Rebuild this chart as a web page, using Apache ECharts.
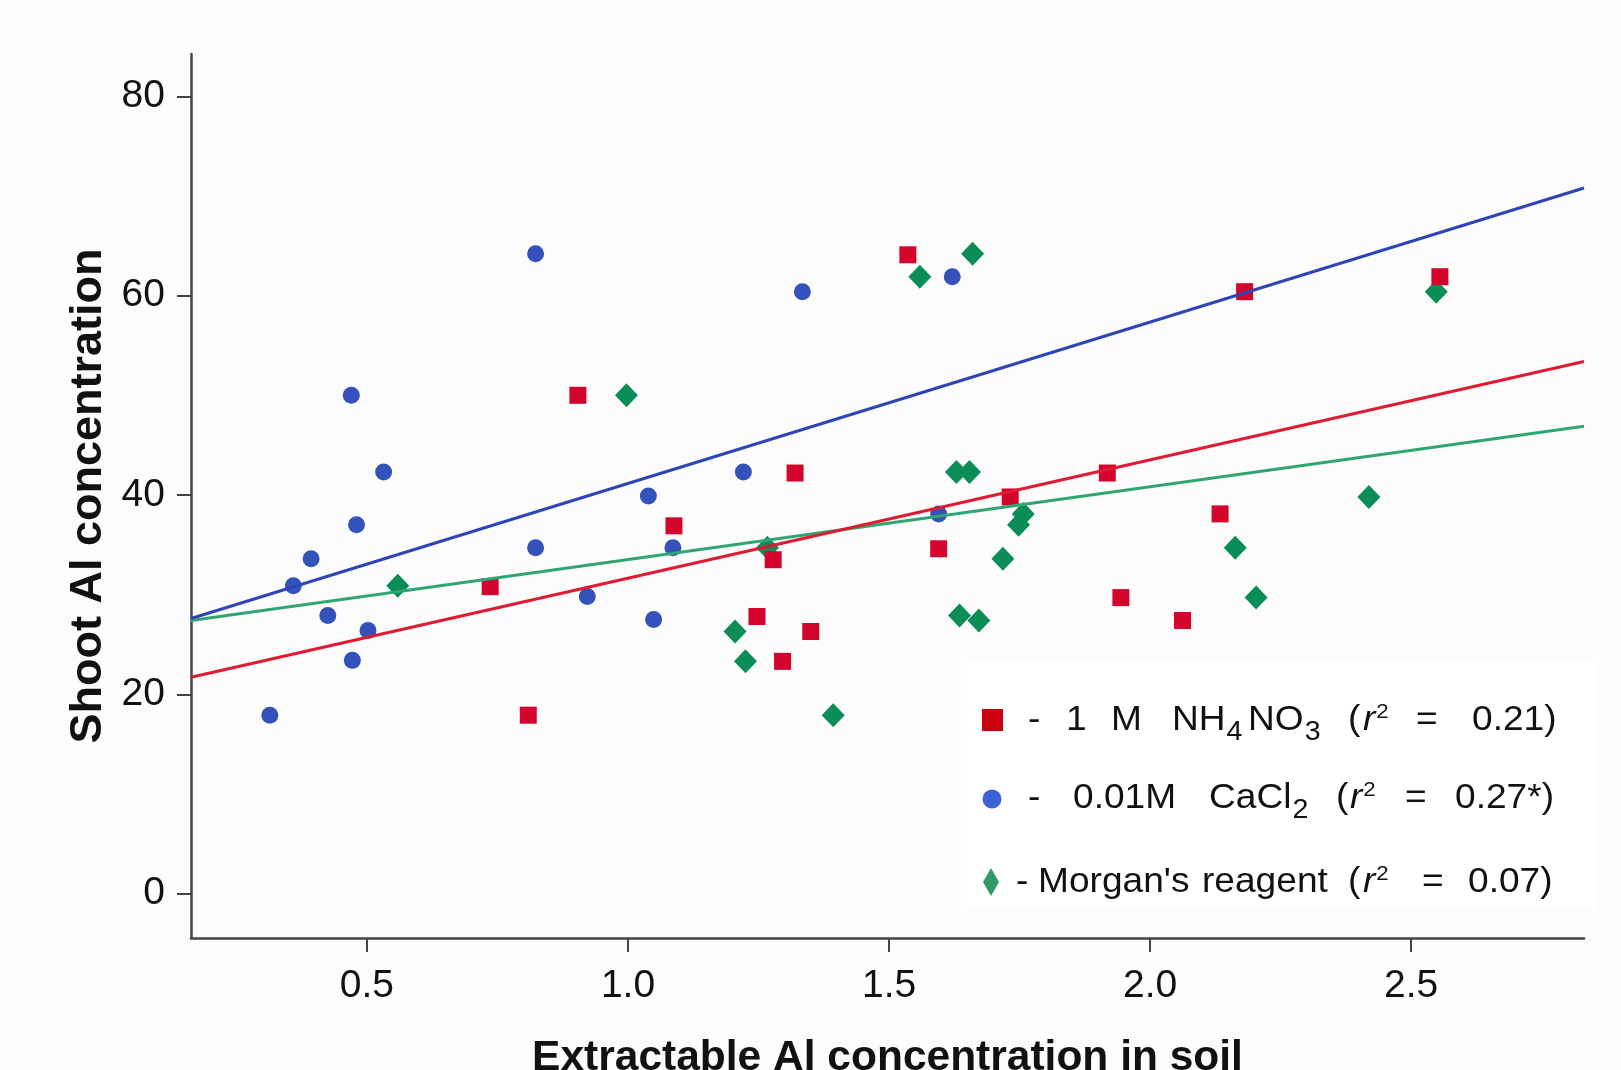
<!DOCTYPE html>
<html>
<head>
<meta charset="utf-8">
<script src="https://cdn.jsdelivr.net/npm/echarts@6/dist/echarts.min.js"></script>
<style>
  html, body { margin: 0; padding: 0; background: #fcfcfc; }
  #chart { width: 1621px; height: 1070px; }
</style>
</head>
<body>
<div id="chart"></div>
<script>
// Extractable Al in soil (x) against shoot Al (y), one list pair per extractant
const nh4no3X = [0.809, 0.736, 0.904, 1.088, 1.247, 1.278, 1.296, 1.320, 1.350, 1.536, 1.595, 1.732, 1.918, 1.944, 2.062, 2.134, 2.181, 2.555];
const nh4no3Y = [17.9, 30.8, 50.0, 36.9, 27.8, 33.5, 23.3, 42.2, 26.3, 64.1, 34.6, 39.8, 42.2, 29.7, 27.4, 38.1, 60.4, 61.9];

const cacl2X = [0.314, 0.359, 0.393, 0.425, 0.470, 0.480, 0.472, 0.502, 0.532, 0.823, 0.823, 0.922, 1.039, 1.049, 1.086, 1.221, 1.334, 1.595, 1.621];
const cacl2Y = [17.9, 30.9, 33.6, 27.9, 50.0, 37.0, 23.4, 26.4, 42.3, 64.2, 34.7, 29.8, 39.9, 27.5, 34.7, 42.3, 60.4, 38.1, 61.9];

const morganX = [0.559, 0.997, 1.205, 1.225, 1.267, 1.393, 1.559, 1.660, 1.629, 1.654, 1.635, 1.672, 1.718, 1.748, 1.757, 2.163, 2.203, 2.419, 2.548];
const morganY = [30.9, 50.0, 26.3, 23.3, 34.7, 17.9, 61.9, 64.2, 42.3, 42.3, 27.9, 27.4, 33.6, 37.0, 38.1, 34.7, 29.7, 39.8, 60.4];

// Fitted regression lines, end points at the axis limits
const fitNh4no3 = [[0.163, 21.7], [2.831, 53.4]];
const fitCacl2 = [[0.163, 27.6], [2.831, 70.8]];
const fitMorgan = [[0.163, 27.4], [2.831, 46.9]];

const xTicks = [0.5, 1.0, 1.5, 2.0, 2.5];
const yTicks = [0, 20, 40, 60, 80];

// Legend rows: [left, right, text, kind]; kind t = plain, i = italic, sub / sup
// (sub and sup pieces follow straight after the piece before them)
const legendNh4no3 = [
  [1029, 1040, '-', 't'], [1070, 1083, '1', 't'], [1113, 1140, 'M', 't'],
  [1170, 1227, 'NH', 't'], [0, 0, '4', 'sub'], [1247, 1305, 'NO', 't'], [0, 0, '3', 'sub'],
  [1350, 1359, '(', 't'], [1364, 1375, 'r', 'i'], [0, 0, '2', 'sup'],
  [1416, 1438, '=', 't'], [1466, 1562, '0.21)', 't']
];
const legendCacl2 = [
  [1029, 1040, '-', 't'], [1068, 1182, '0.01M', 't'],
  [1208, 1293, 'CaCl', 't'], [0, 0, '2', 'sub'],
  [1338, 1347, '(', 't'], [1351, 1362, 'r', 'i'], [0, 0, '2', 'sup'],
  [1405, 1427, '=', 't'], [1452, 1557, '0.27*)', 't']
];
const legendMorgan = [
  [1017, 1027, '-', 't'], [1040, 1187, "Morgan's", 't'], [1200, 1330, 'reagent', 't'],
  [1350, 1359, '(', 't'], [1364, 1375, 'r', 'i'], [0, 0, '2', 'sup'],
  [1422, 1443, '=', 't'], [1466, 1555, '0.07)', 't']
];

const RED = '#d4052c';
const BLUE = '#3353bb';
const GREEN = '#0b8d57';

const sans = "'Liberation Sans', Arial, sans-serif";

const zip = (xs, ys) => xs.map((x, i) => [x, ys[i]]);

// text pieces of the legend: plain pieces centred in their slot, indices hung on the previous piece
const measureCtx = document.createElement('canvas').getContext('2d');
const LEGEND_SX = 1.06;
const kinds = {
  t: { size: 35, style: 'normal', dy: 0 },
  i: { size: 35, style: 'italic', dy: 0 },
  sub: { size: 27, style: 'normal', dy: 13 },
  sup: { size: 21, style: 'normal', dy: -8 }
};
function legendPieces(rows, cy) {
  let lastEnd = 0;
  return rows.map(([x0, x1, text, kind]) => {
    const k = kinds[kind];
    measureCtx.font = k.style + ' ' + k.size + 'px ' + sans;
    const w = measureCtx.measureText(text).width * LEGEND_SX;
    const x = (kind === 'sub' || kind === 'sup') ? lastEnd + 1 : Math.round((x0 + x1) / 2 - w / 2);
    lastEnd = x + w;
    return {
      type: 'text', x: x, y: cy + k.dy, scaleX: LEGEND_SX, z: 100,
      style: {
        text: text, fill: '#111', align: 'left', verticalAlign: 'middle',
        fontFamily: sans, fontSize: k.size, fontStyle: k.style
      }
    };
  });
}

const chart = echarts.init(document.getElementById('chart'), null, { renderer: 'canvas' });

const option = {
  backgroundColor: '#fcfcfc',
  animation: false,
  grid: { left: 191, right: 37, top: 54, bottom: 132, containLabel: false, outerBoundsMode: 'none' },
  xAxis: {
    type: 'value', min: 0.163, max: 2.831,
    name: 'Extractable Al concentration in soil',
    nameLocation: 'middle', nameGap: 99,
    nameTextStyle: { fontFamily: sans, fontWeight: 'bold', fontSize: 42.5, color: '#111' },
    splitLine: { show: false },
    axisLine: { onZero: false, lineStyle: { color: '#444', width: 2.5 } },
    axisTick: { show: true, length: 14, customValues: xTicks, lineStyle: { color: '#444', width: 2 } },
    axisLabel: {
      customValues: xTicks, margin: 29,
      formatter: v => v.toFixed(1),
      fontFamily: sans, fontSize: 39, color: '#111'
    }
  },
  yAxis: {
    type: 'value', min: -4.46, max: 84.25,
    name: 'Shoot Al concentration',
    nameLocation: 'middle', nameGap: 80, nameRotate: 90,
    nameTextStyle: { fontFamily: sans, fontWeight: 'bold', fontSize: 45, color: '#111' },
    splitLine: { show: false },
    axisLine: { show: true, onZero: false, lineStyle: { color: '#444', width: 2.5 } },
    axisTick: { show: true, length: 14, customValues: yTicks, lineStyle: { color: '#444', width: 2 } },
    axisLabel: {
      customValues: yTicks, margin: 26,
      fontFamily: sans, fontSize: 39, color: '#111'
    }
  },
  series: [
    { name: '0.01M CaCl2', type: 'scatter', symbol: 'circle', symbolSize: 17,
      itemStyle: { color: BLUE, opacity: 1 }, data: zip(cacl2X, cacl2Y), z: 2 },
    { name: "Morgan's reagent", type: 'scatter', symbol: 'diamond', symbolSize: [23, 24],
      itemStyle: { color: GREEN, opacity: 1 }, data: zip(morganX, morganY), z: 2 },
    { name: '1 M NH4NO3', type: 'scatter', symbol: 'rect', symbolSize: 17,
      itemStyle: { color: RED, opacity: 1 }, data: zip(nh4no3X, nh4no3Y), z: 2 },
    { type: 'line', data: fitMorgan, symbol: 'none', z: 3,
      lineStyle: { color: '#2fa574', width: 3 } },
    { type: 'line', data: fitNh4no3, symbol: 'none', z: 3,
      lineStyle: { color: '#df1a31', width: 3 } },
    { type: 'line', data: fitCacl2, symbol: 'none', z: 3,
      lineStyle: { color: '#2f45b3', width: 3 } }
  ],
  graphic: [
    { type: 'rect', left: 961, top: 662, z: 90, shape: { width: 636, height: 248 },
      style: { fill: '#ffffff' } },
    // legend markers
    { type: 'rect', z: 100, shape: { x: 982, y: 709, width: 21, height: 22 }, style: { fill: '#cc0010' } },
    { type: 'circle', z: 100, shape: { cx: 992, cy: 799, r: 9.5 }, style: { fill: '#3a62d6' } },
    { type: 'polygon', z: 100, shape: { points: [[991, 868], [999, 882], [991, 896], [983, 882]] }, style: { fill: '#2e9a64' } }
  ]
    .concat(legendPieces(legendNh4no3, 720))
    .concat(legendPieces(legendCacl2, 798))
    .concat(legendPieces(legendMorgan, 882))
};

chart.setOption(option);
</script>
</body>
</html>
